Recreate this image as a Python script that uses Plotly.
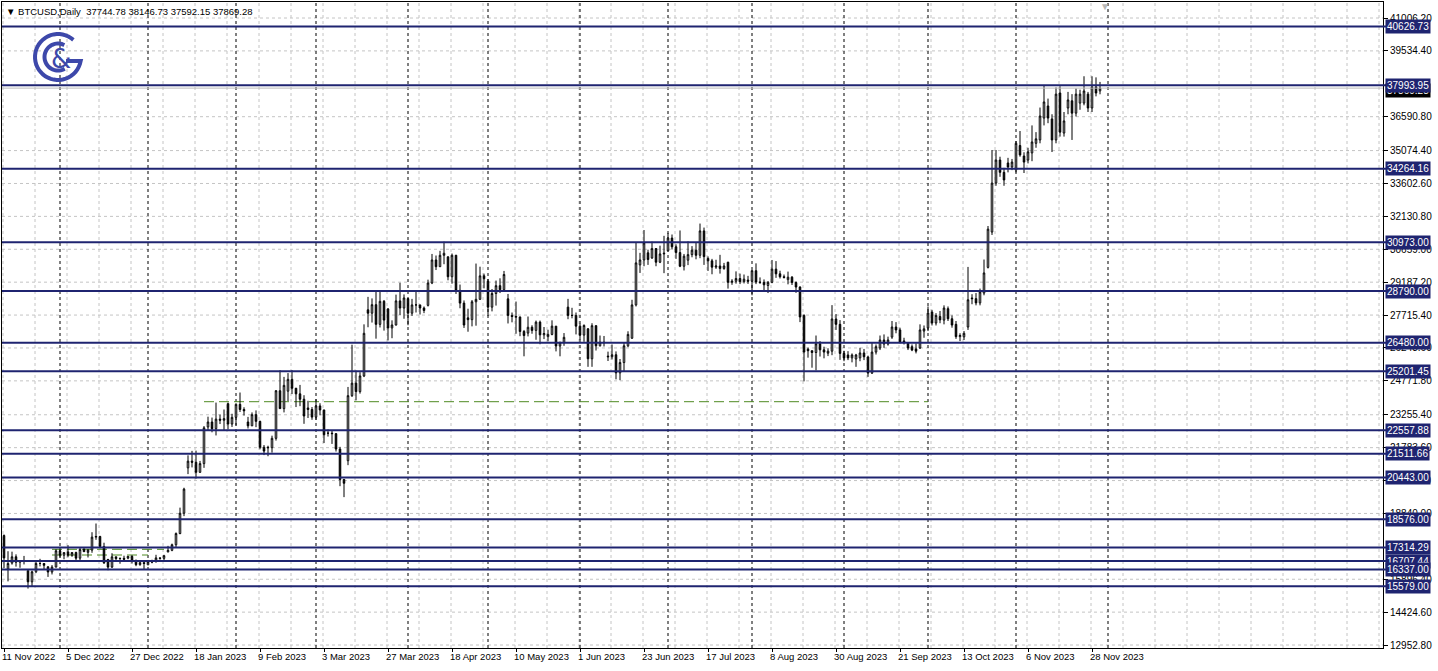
import math
import pandas as pd
import plotly.graph_objects as go

# ---------------- data (weekday daily bars, 11 Nov 2022 .. 30 Nov 2023) ----------------
first_day = "2022-11-11"
n_bars = 275

open_nov22 = [17850, 16350, 16620, 16900, 16660, 16690, 16280, 15780, 16230, 16600, 16600, 16450, 16220, 16440]
high_nov22 = [17900, 17150, 17130, 17010, 16730, 16940, 16290, 16280, 16700, 16810, 16610, 16480, 16530, 17240]
low_nov22 = [16400, 15800, 16550, 16460, 16410, 16560, 15480, 15590, 16170, 16470, 16350, 16000, 16110, 16430]
close_nov22 = [16850, 16600, 16900, 16660, 16690, 16700, 15780, 16230, 16600, 16600, 16520, 16220, 16440, 17170]

open_dec22 = [17170, 16970, 17120, 16970, 17090, 16840, 17230, 17100, 17200, 17780, 17810, 17360, 16780, 16440, 16900, 16820, 16830, 16840, 16920, 16710, 16550, 16640]
high_dec22 = [17320, 17100, 17420, 17110, 17130, 17300, 17300, 17240, 18000, 18390, 17840, 17530, 16810, 17060, 16900, 16860, 16950, 16940, 16970, 16780, 16660, 16650]
low_dec22 = [16870, 16790, 16880, 16900, 16690, 16740, 17120, 16870, 17080, 17660, 17280, 16580, 16300, 16400, 16740, 16590, 16780, 16790, 16600, 16480, 16500, 16340]
close_dec22 = [16970, 17090, 16970, 17090, 16840, 17230, 17130, 17200, 17780, 17810, 17360, 16630, 16440, 16900, 16820, 16830, 16790, 16920, 16710, 16550, 16640, 16600]

open_jan23 = [16540, 16670, 16670, 16850, 16830, 17120, 17190, 17440, 17940, 18850, 20880, 21180, 21130, 20680, 21070, 22710, 22930, 22630, 23060, 23010, 23750, 22840]
high_jan23 = [16760, 16770, 16990, 16880, 16990, 17390, 17490, 17990, 19100, 19990, 21440, 21640, 21650, 21190, 22750, 23170, 23130, 23800, 23260, 23490, 23800, 23300]
low_jan23 = [16540, 16610, 16660, 16770, 16720, 17100, 17150, 17320, 17910, 18720, 20600, 20900, 20400, 20660, 20880, 22540, 22470, 22330, 22840, 22550, 22600, 22710]
close_jan23 = [16670, 16670, 16850, 16830, 16950, 17190, 17440, 17940, 18850, 19930, 21180, 21130, 20680, 21070, 22670, 22930, 22630, 23060, 23010, 23080, 22840, 23140]

open_feb23 = [23140, 23720, 23490, 22930, 22760, 23260, 22960, 21800, 21800, 21780, 22200, 24330, 23530, 24310, 24840, 24440, 24190, 23950, 23560, 23490]
high_feb23 = [23770, 24250, 23590, 23160, 23360, 23450, 22990, 21900, 21870, 22320, 24360, 25250, 24950, 25120, 25250, 24460, 24590, 24130, 23880, 23600]
low_feb23 = [22780, 23380, 23220, 22640, 22750, 22700, 21710, 21450, 21400, 21560, 22100, 23520, 23360, 23870, 24180, 23600, 23640, 22850, 23110, 23030]
close_feb23 = [23720, 23490, 23430, 22760, 23260, 22960, 21800, 21630, 21780, 22200, 24330, 23530, 24570, 24840, 24440, 24190, 23950, 23200, 23490, 23150]

open_mar23 = [23150, 23650, 23470, 22430, 22430, 22410, 21720, 20360, 21200, 24110, 24670, 24290, 24990, 27950, 27800, 28180, 27300, 28330, 27990, 27140, 27270, 28350, 28030]
high_mar23 = [23950, 23770, 23480, 22600, 22540, 22430, 21820, 20370, 24500, 26390, 25230, 25160, 27300, 28530, 28460, 28800, 28750, 28390, 28030, 27480, 28630, 29160, 28640]
low_mar23 = [23030, 23230, 21990, 22280, 21950, 21610, 20060, 19570, 21000, 24050, 23900, 24200, 24940, 27170, 27380, 26660, 27160, 27020, 26580, 26680, 27250, 27720, 27550]
close_mar23 = [23650, 23470, 22360, 22430, 22410, 21720, 20360, 20190, 24110, 24670, 24290, 24990, 26900, 27800, 28180, 27300, 28330, 27490, 27140, 27270, 28350, 28030, 28480]

open_apr23 = [28450, 27800, 28170, 28170, 28030, 28150, 29150, 30180, 29880, 30390, 30320, 29430, 30390, 28820, 28250, 27590, 27510, 28310, 28420, 29470]
high_apr23 = [28480, 28440, 28750, 28180, 28100, 29300, 30450, 30380, 30590, 31000, 30340, 30470, 30410, 29080, 28370, 28000, 28390, 30020, 29880, 29570]
low_apr23 = [27260, 27680, 27830, 27740, 27800, 28100, 29100, 29730, 29870, 29990, 29270, 29120, 28660, 28020, 27140, 26970, 27210, 27240, 28400, 28910]
close_apr23 = [27800, 28170, 28170, 28030, 27920, 29150, 30180, 29880, 30390, 30480, 29430, 30390, 28820, 28250, 27270, 27510, 28310, 28420, 29470, 29340]

open_may23 = [29230, 28070, 28680, 29030, 28850, 28440, 27700, 27650, 27630, 26980, 26910, 27170, 27030, 27400, 26830, 26750, 26850, 27220, 26330, 26480, 28070, 27700, 27700]
high_may23 = [29330, 28880, 29260, 29360, 29690, 28660, 27830, 28320, 27650, 27050, 27650, 27260, 27470, 27470, 27180, 27060, 27480, 27220, 26530, 26910, 28440, 28040, 27830]
low_may23 = [27680, 27880, 28140, 28700, 28810, 27340, 27390, 26880, 26770, 25870, 26760, 26880, 26610, 26410, 26640, 26540, 26810, 26090, 25870, 26340, 27530, 27570, 26850]
close_may23 = [28070, 28680, 29030, 28850, 29530, 27700, 27650, 27630, 26980, 26800, 27170, 27030, 27400, 26830, 26890, 26850, 27220, 26330, 26480, 26720, 27700, 27700, 27220]

open_jun23 = [27220, 26820, 27100, 25760, 27240, 26340, 26500, 25880, 25850, 25940, 25130, 25590, 26340, 26680, 28170, 29960, 30180, 30500, 30270, 30690, 30080, 30450]
high_jun23 = [27330, 27300, 27130, 27350, 27260, 26800, 26780, 26080, 26400, 26090, 25750, 26470, 26990, 28400, 30940, 30500, 31520, 30640, 31000, 30710, 30820, 31260]
low_jun23 = [26620, 26520, 25400, 25400, 26130, 26310, 26310, 25660, 25730, 24840, 24800, 25190, 26280, 26650, 28100, 29600, 29900, 29960, 30230, 29900, 30040, 29590]
close_jun23 = [26820, 27250, 25760, 27240, 26340, 26500, 26480, 25850, 25940, 25130, 25590, 26340, 26850, 28170, 30050, 30180, 30940, 30200, 30690, 30080, 30450, 30480]

open_jul23 = [30590, 31160, 30770, 30510, 29900, 30170, 30420, 30620, 30390, 31480, 30250, 30140, 29860, 29910, 29800, 30080, 29180, 29230, 29350, 29210, 29280]
high_jul23 = [31380, 31320, 30880, 31500, 30450, 31010, 30800, 30980, 31810, 31630, 30340, 30230, 30190, 30410, 30050, 30100, 29320, 29670, 29570, 29530, 29470]
low_jul23 = [30580, 30650, 30230, 29860, 29710, 29950, 30300, 30210, 30260, 29960, 29690, 29540, 29780, 29570, 29740, 28900, 29070, 29120, 29100, 29130, 29110]
close_jul23 = [31160, 30770, 30510, 29900, 30350, 30420, 30620, 30390, 31480, 30330, 30140, 29860, 29910, 29800, 29910, 29180, 29230, 29350, 29210, 29320, 29230]

open_aug23 = [29230, 29700, 29190, 29180, 29040, 29180, 29770, 29560, 29430, 29300, 29410, 29170, 28970, 27700, 26190, 26120, 26040, 26430, 26160, 26010, 26100, 27540, 27300]
high_aug23 = [29730, 30030, 29400, 29310, 29240, 30180, 30130, 29700, 29530, 29660, 29460, 29220, 29000, 27750, 26260, 26130, 26800, 26550, 26300, 26230, 28160, 27760, 27490]
low_aug23 = [28600, 29100, 29110, 28800, 28700, 29140, 29380, 29350, 29350, 29090, 29060, 28710, 27400, 24750, 25810, 25360, 25240, 25860, 25780, 25880, 25920, 27050, 25710]
close_aug23 = [29700, 29190, 29180, 29070, 29180, 29770, 29560, 29430, 29400, 29410, 29170, 28970, 27630, 26060, 26120, 26040, 26430, 26160, 26060, 26100, 27540, 27300, 26000]

open_sep23 = [26000, 25930, 25800, 25750, 25800, 26020, 25840, 25120, 26060, 26240, 26600, 26420, 26730, 27180, 27050, 26560, 26450, 26300, 26200, 26240, 27000]
high_sep23 = [26120, 26100, 26000, 25980, 26250, 26200, 25900, 26500, 26400, 26800, 26850, 26750, 27450, 27400, 27150, 26700, 26500, 26400, 26450, 27300, 27250]
low_sep23 = [25650, 25700, 25600, 25400, 25650, 25700, 24950, 25080, 25950, 26150, 26250, 26350, 26650, 26900, 26450, 26400, 26150, 26100, 26000, 26200, 26700]
close_sep23 = [25800, 25800, 25930, 25930, 26020, 25850, 25120, 26060, 26300, 26600, 26420, 26600, 27180, 27050, 26510, 26500, 26240, 26150, 26100, 27050, 27100]

open_oct23 = [27140, 27850, 27360, 27650, 27490, 28000, 27550, 27300, 26750, 26740, 27180, 28480, 28450, 28260, 28700, 29850, 31430, 33620, 34650, 34100, 34520, 34340]
high_oct23 = [28100, 27950, 27800, 27900, 28150, 28100, 27700, 27450, 26900, 27000, 29870, 28650, 28700, 28900, 30200, 31700, 35100, 35100, 34800, 34300, 34750, 34700]
low_oct23 = [27000, 27250, 27250, 27350, 27300, 27450, 27150, 26650, 26550, 26600, 27050, 28200, 28150, 28150, 28600, 29800, 31300, 33500, 33900, 33500, 34100, 34200]
close_oct23 = [27810, 27360, 27700, 27500, 28030, 27550, 27270, 26750, 26800, 26900, 28400, 28450, 28260, 28750, 29600, 31560, 33620, 34650, 34100, 33760, 34340, 34560]

open_nov23 = [34200, 35300, 34830, 34650, 34970, 35400, 35550, 36530, 37070, 36490, 35550, 37650, 35860, 36980, 37300, 36750, 37200, 37200, 37600, 36980, 37920, 37744.78]
high_nov23 = [35500, 35950, 35000, 35200, 36200, 35900, 37000, 38010, 37400, 36700, 37900, 37950, 36800, 37700, 37600, 37850, 37800, 38400, 37700, 38400, 38350, 38146.73]
low_nov23 = [34100, 34800, 34070, 34500, 34600, 35200, 35400, 36200, 36300, 35010, 35400, 35700, 35700, 36700, 35550, 36600, 36900, 37100, 36800, 36800, 37500, 37592.15]
close_nov23 = [35400, 34880, 34560, 35020, 35460, 35600, 36620, 37250, 36530, 35550, 37600, 35900, 36400, 37340, 36750, 37600, 37600, 37740, 36980, 37920, 37650, 37869.28]

opens = (open_nov22 + open_dec22 + open_jan23 + open_feb23 + open_mar23 + open_apr23 + open_may23
         + open_jun23 + open_jul23 + open_aug23 + open_sep23 + open_oct23 + open_nov23)
highs = (high_nov22 + high_dec22 + high_jan23 + high_feb23 + high_mar23 + high_apr23 + high_may23
         + high_jun23 + high_jul23 + high_aug23 + high_sep23 + high_oct23 + high_nov23)
lows = (low_nov22 + low_dec22 + low_jan23 + low_feb23 + low_mar23 + low_apr23 + low_may23
        + low_jun23 + low_jul23 + low_aug23 + low_sep23 + low_oct23 + low_nov23)
closes = (close_nov22 + close_dec22 + close_jan23 + close_feb23 + close_mar23 + close_apr23 + close_may23
          + close_jun23 + close_jul23 + close_aug23 + close_sep23 + close_oct23 + close_nov23)

# horizontal support / resistance levels
levels = [40626.73, 37993.95, 34264.16, 30973.00, 28790.00, 26480.00, 25201.45, 22557.88,
          21511.66, 20443.00, 18576.00, 17314.29, 16707.44, 16337.00, 15579.00]
bid_price = 37869.28
header_text = "\u25bc BTCUSD,Daily  37744.78 38146.73 37592.15 37869.28"

# green dashed object lines: (price, start date, end date)
green_lines = [(23840, "2023-01-20", "2023-10-02"),
               (17235, "2022-11-29", "2023-01-06"),
               (16981, "2022-11-29", "2023-01-02")]

# price axis tick labels
price_ticks = [41006.20, 39534.40, 36590.80, 35074.40, 33602.60, 32130.80, 30659.00,
               29187.20, 27715.40, 26243.60, 24771.80, 23255.40, 21783.60, 20311.80, 18840.00,
               15896.40, 14424.60, 12952.80]

# time axis labels
time_tick_dates = ["2022-11-11", "2022-12-05", "2022-12-27", "2023-01-18", "2023-02-09", "2023-03-03",
                   "2023-03-27", "2023-04-18", "2023-05-10", "2023-06-01", "2023-06-23", "2023-07-17",
                   "2023-08-08", "2023-08-30", "2023-09-21", "2023-10-13", "2023-11-06", "2023-11-28"]
time_tick_labels = ["11 Nov 2022", "5 Dec 2022", "27 Dec 2022", "18 Jan 2023", "9 Feb 2023", "3 Mar 2023",
                    "27 Mar 2023", "18 Apr 2023", "10 May 2023", "1 Jun 2023", "23 Jun 2023", "17 Jul 2023",
                    "8 Aug 2023", "30 Aug 2023", "21 Sep 2023", "13 Oct 2023", "6 Nov 2023", "28 Nov 2023"]

# ---------------- layout constants ----------------
W, H = 1438, 671
ML, MR, MT, MB = 2, 55, 2, 23
PW, PH = W - ML - MR, H - MT - MB
Y_RANGE = [12820, 41722]
X_RANGE = [-0.5, -0.5 + PW / 4.0]

NAVY = "#1f2470"
GRID = "#c4c4c4"
GREEN = "#4f8a23"
LOGO = "#3d48aa"
FONT = "Liberation Sans, Arial, sans-serif"

dates = pd.bdate_range(first_day, periods=n_bars)
date_pos = {d.strftime("%Y-%m-%d"): i for i, d in enumerate(dates)}
xs = list(range(n_bars))

fig = go.Figure()
fig.add_trace(go.Candlestick(
    x=xs, open=opens, high=highs, low=lows, close=closes,
    increasing=dict(line=dict(color="black", width=1), fillcolor="white"),
    decreasing=dict(line=dict(color="black", width=1), fillcolor="black"),
    whiskerwidth=0, showlegend=False, hoverinfo="skip"))

shapes = []
# vertical grid every 8 bars
for k in range(0, int(X_RANGE[1]) + 1, 8):
    shapes.append(dict(type="line", xref="x", yref="paper", x0=k - 0.25, x1=k - 0.25, y0=0, y1=1,
                       line=dict(color=GRID, width=1, dash="3px,3px"), layer="below"))
# horizontal grid at price ticks
for p in price_ticks:
    shapes.append(dict(type="line", xref="paper", yref="y", x0=0, x1=1, y0=p, y1=p,
                       line=dict(color=GRID, width=1, dash="3px,3px"), layer="below"))
# month separators (first bar of each month), plus the next month start after the data
prev_month = None
month_starts = []
for i, d in enumerate(dates):
    if prev_month is not None and d.month != prev_month:
        month_starts.append(i)
    prev_month = d.month
month_starts.append(n_bars + 1)
for i in month_starts:
    shapes.append(dict(type="line", xref="x", yref="paper", x0=i, x1=i, y0=0, y1=1,
                       line=dict(color="black", width=1, dash="3px,3px"), layer="below"))
# green dashed lines
for price, d0, d1 in green_lines:
    shapes.append(dict(type="line", xref="x", yref="y", x0=date_pos[d0], x1=date_pos[d1], y0=price, y1=price,
                       line=dict(color=GREEN, width=1, dash="10px,5px"), layer="below"))
# bid line
shapes.append(dict(type="line", xref="paper", yref="y", x0=0, x1=1, y0=bid_price, y1=bid_price,
                   line=dict(color="#bdbdbd", width=1), layer="above"))
# level lines
for lv in levels:
    shapes.append(dict(type="line", xref="paper", yref="y", x0=0, x1=1.003, y0=lv, y1=lv,
                       line=dict(color=NAVY, width=2), layer="above"))


# logo drawn in pixel space -> paper coords
def px(x):
    return (x - ML) / PW


def py(y):
    return 1 - (y - MT) / PH


def arc_path(cx, cy, r, a0, a1, extra=None):
    pts = []
    steps = 40
    for s in range(steps + 1):
        a = math.radians(a0 + (a1 - a0) * s / steps)
        pts.append((cx + r * math.cos(a), cy - r * math.sin(a)))
    if extra:
        pts += extra
    return "M " + " L ".join(f"{px(x):.5f},{py(y):.5f}" for x, y in pts)


shapes.append(dict(type="path", xref="paper", yref="paper",
                   path=arc_path(58, 57, 23, 48, 350, extra=[(66, 61)]),
                   line=dict(color=LOGO, width=4), layer="above"))
shapes.append(dict(type="path", xref="paper", yref="paper",
                   path=arc_path(58, 57, 13.5, 62, 300),
                   line=dict(color=LOGO, width=4), layer="above"))

annotations = []
annotations.append(dict(xref="paper", yref="paper", x=px(61), y=py(59), text="&", showarrow=False,
                        font=dict(family="DejaVu Sans", size=26, color=LOGO), xanchor="center", yanchor="middle"))
annotations.append(dict(xref="paper", yref="paper", x=0, y=1, xanchor="left", yanchor="top", xshift=2, yshift=-2,
                        text=header_text, showarrow=False, font=dict(family=FONT, size=9.5, color="black")))
# chart shift marker
annotations.append(dict(xref="x", yref="paper", x=n_bars + 0.3, y=1, yanchor="top", yshift=3, text="\u25bc",
                        showarrow=False, font=dict(size=10, color="#b8b8b8")))
# bid label
annotations.append(dict(xref="paper", yref="y", x=1, y=bid_price, xanchor="left", yanchor="middle", xshift=2,
                        yshift=-2, text=f"{bid_price:.2f}", showarrow=False, bgcolor="black", borderpad=1,
                        font=dict(family=FONT, size=10, color="white")))
# level labels
for lv in levels:
    annotations.append(dict(xref="paper", yref="y", x=1, y=lv, xanchor="left", yanchor="middle", xshift=2,
                            text=f"{lv:.2f}", showarrow=False, bgcolor=NAVY, borderpad=1,
                            font=dict(family=FONT, size=10, color="white")))

fig.update_layout(
    width=W, height=H, margin=dict(l=ML, r=MR, t=MT, b=MB, pad=0, autoexpand=False),
    paper_bgcolor="white", plot_bgcolor="white",
    boxgap=0.45, showlegend=False,
    shapes=shapes, annotations=annotations,
    font=dict(family=FONT, size=10, color="black"),
    xaxis=dict(range=X_RANGE, rangeslider=dict(visible=False), showgrid=False, zeroline=False,
               automargin=False, tickangle=0,
               tickmode="array", tickvals=[date_pos[d] for d in time_tick_dates], ticktext=time_tick_labels,
               ticks="outside", ticklen=3, tickcolor="black", ticklabelposition="outside right",
               ticklabelshift=-3,
               showline=True, linecolor="black", linewidth=1, mirror=True,
               tickfont=dict(family=FONT, size=9.5, color="black")),
    yaxis=dict(range=Y_RANGE, side="right", showgrid=False, zeroline=False, automargin=False,
               tickmode="array", tickvals=price_ticks, ticktext=[f"{p:.2f}" for p in price_ticks],
               ticks="outside", ticklen=4, tickcolor="black",
               showline=True, linecolor="black", linewidth=1, mirror=True,
               tickfont=dict(family=FONT, size=10, color="black")),
)

fig.write_html("out.html", config={"displayModeBar": False},
               post_script="document.body.style.margin='0px';")
